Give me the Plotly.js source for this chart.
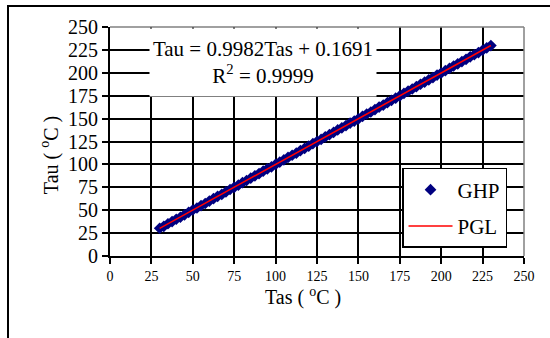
<!DOCTYPE html>
<html>
<head>
<meta charset="utf-8">
<script src="https://cdn.plot.ly/plotly-3.0.1.min.js"></script>
<style>
  html, body { margin: 0; padding: 0; background: #fff; }
  #frame { position: absolute; left: 7px; top: 5px; width: 560px; height: 360px;
           border-top: 2px solid #000; border-left: 2px solid #000; }
  #chart { position: absolute; left: 0; top: 0; width: 550px; height: 338px; }
</style>
</head>
<body>
<div id="frame"></div>
<div id="chart"></div>
<script>
const tasGHP = [30, 32.5, 35, 37.5, 40, 42.5, 45, 47.5, 50, 52.5,
  55, 57.5, 60, 62.5, 65, 67.5, 70, 72.5, 75, 77.5,
  80, 82.5, 85, 87.5, 90, 92.5, 95, 97.5, 100, 102.5,
  105, 107.5, 110, 112.5, 115, 117.5, 120, 122.5, 125, 127.5,
  130, 132.5, 135, 137.5, 140, 142.5, 145, 147.5, 150, 152.5,
  155, 157.5, 160, 162.5, 165, 167.5, 170, 172.5, 175, 177.5,
  180, 182.5, 185, 187.5, 190, 192.5, 195, 197.5, 200, 202.5,
  205, 207.5, 210, 212.5, 215, 217.5, 220, 222.5, 225, 227.5, 230];
const tauGHP = [30.3, 32.4, 35.2, 37.6, 40.1, 42.3, 45.0, 47.7, 50.2, 52.4,
  55.1, 57.3, 60.0, 62.6, 65.1, 67.2, 70.0, 72.6, 75.0, 77.3,
  80.1, 82.4, 85.0, 87.5, 89.9, 92.6, 95.1, 97.2, 100.0, 102.5,
  104.9, 107.6, 110.0, 112.3, 115.1, 117.4, 119.9, 122.6, 125.0, 127.3,
  130.1, 132.4, 134.9, 137.6, 139.9, 142.4, 145.1, 147.3, 149.8, 152.5,
  155.0, 157.2, 159.9, 162.6, 164.8, 167.4, 170.0, 172.3, 174.8, 177.6,
  179.9, 182.3, 184.8, 187.5, 189.9, 192.3, 194.8, 197.5, 199.8, 202.3,
  204.8, 207.4, 209.8, 212.2, 214.7, 217.4, 219.7, 222.1, 224.6, 227.3, 229.7];
const tasPGL = [30, 230];
const tauPGL = [30.1, 229.8];
const tickVals = [0, 25, 50, 75, 100, 125, 150, 175, 200, 225, 250];
const tickText = ['0', '25', '50', '75', '100', '125', '150', '175', '200', '225', '250'];
const eqText = 'Tau = 0.9982Tas + 0.1691<br>R<sup>2</sup> = 0.9999';
const xTitle = 'Tas ( <sup>o</sup>C )';
const yTitle = 'Tau ( <sup>o</sup>C )';

const serif = '"Liberation Serif", "Times New Roman", Times, serif';

const traces = [
  { x: tasGHP, y: tauGHP, mode: 'markers', type: 'scatter', name: 'GHP',
    legendgroup: 'a',
    marker: { symbol: 'diamond', size: 9, color: '#000080' } },
  { x: tasPGL, y: tauPGL, mode: 'lines', type: 'scatter', name: 'PGL',
    legendgroup: 'b',
    line: { color: '#ff0000', width: 1.5 } }
];

const axisCommon = {
  range: [0, 250], tickvals: tickVals, ticktext: tickText,
  showgrid: true, gridcolor: '#000', gridwidth: 2,
  zeroline: false, showline: true, linecolor: '#000', linewidth: 2,
  ticks: 'outside', ticklen: 6, tickcolor: '#000', tickwidth: 2
};

const layout = {
  width: 550, height: 338,
  margin: { l: 110, r: 26, t: 27, b: 82 },
  paper_bgcolor: 'rgba(0,0,0,0)', plot_bgcolor: '#fff',
  font: { family: serif, color: '#000' },
  xaxis: Object.assign({}, axisCommon, {
    tickfont: { size: 14, family: serif }
  }),
  yaxis: Object.assign({}, axisCommon, {
    tickfont: { size: 20, family: serif }
  }),
  showlegend: true,
  legend: {
    x: 0.959, xanchor: 'right', y: 0.035, yanchor: 'bottom',
    bgcolor: '#fff', bordercolor: '#000', borderwidth: 1.5,
    font: { size: 21, family: serif },
    traceorder: 'grouped', tracegroupgap: 6, itemwidth: 44
  },
  annotations: [{
    xref: 'x', yref: 'y', x: 92.1, y: 211.2,
    text: eqText, showarrow: false,
    font: { size: 21, family: serif },
    bgcolor: '#fff', width: 224, height: 65, align: 'center'
  }, {
    xref: 'paper', yref: 'paper', x: 0.466, y: -0.179,
    xanchor: 'center', yanchor: 'middle',
    text: xTitle, showarrow: false, font: { size: 20, family: serif }
  }, {
    xref: 'paper', yref: 'paper', x: -0.147, y: 0.441,
    xanchor: 'center', yanchor: 'middle', textangle: -90,
    text: yTitle, showarrow: false, font: { size: 20, family: serif }
  }],
  shapes: [
    { type: 'line', xref: 'paper', yref: 'paper', x0: 0, x1: 1, y0: 1, y1: 1,
      line: { color: '#808080', width: 1.5 } },
    { type: 'line', xref: 'paper', yref: 'paper', x0: 1, x1: 1, y0: 0, y1: 1,
      line: { color: '#808080', width: 1.5 } }
  ]
};

Plotly.newPlot('chart', traces, layout, { staticPlot: true, displayModeBar: false });
</script>
</body>
</html>
